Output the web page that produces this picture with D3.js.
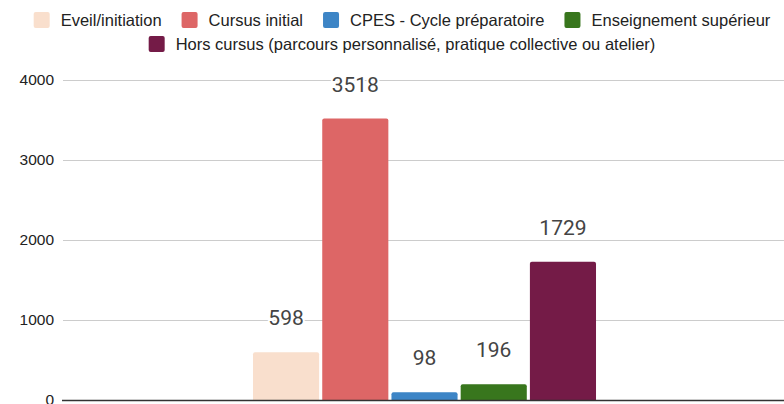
<!DOCTYPE html>
<html><head><meta charset="utf-8">
<script src="https://cdn.jsdelivr.net/npm/d3@7/dist/d3.min.js"></script>
<style>
html,body{margin:0;padding:0;background:#fff;overflow:hidden}
svg{display:block}
</style></head>
<body>
<script>
const categories = [""];
const seriesNames = ["Eveil/initiation","Cursus initial","CPES - Cycle préparatoire","Enseignement supérieur","Hors cursus (parcours personnalisé, pratique collective ou atelier)"];
const seriesValues = [598, 3518, 98, 196, 1729];
const seriesColors = ["#f9dfcd","#dd6666","#3d85c6","#38761d","#741b47"];
const yTicks = [0, 1000, 2000, 3000, 4000];

const W = 784, H = 404;
const svg = d3.select("body").append("svg").attr("width", W).attr("height", H);

const mLeft = 62, mRight = 784, mTop = 80, mBottom = 400;
const y = d3.scaleLinear().domain([0, 4000]).range([mBottom, mTop]);
const x0 = d3.scaleBand().domain(categories).range([mLeft, mRight]).paddingInner(0).paddingOuter(0.5525).align(0.504);
const x1 = d3.scaleBand().domain(seriesNames).range([0, x0.bandwidth()]).paddingInner(0.045).paddingOuter(0);

// gridlines
svg.append("g").selectAll("line").data(yTicks.filter(t => t > 0)).join("line")
  .attr("x1", mLeft + 1).attr("x2", mRight)
  .attr("y1", d => Math.round(y(d)) + 0.5).attr("y2", d => Math.round(y(d)) + 0.5)
  .attr("stroke", "#cccccc").attr("stroke-width", 1);

// y axis labels
const yAxis = d3.axisLeft(y).tickValues(yTicks).tickSize(0).tickPadding(0).tickFormat(d3.format("d"));
const ya = svg.append("g").attr("transform", `translate(54,0)`).call(yAxis);
ya.select(".domain").remove();
ya.selectAll("text").attr("font-family", "'Liberation Sans', Arial, sans-serif").attr("font-size", 15.5).attr("fill", "#222");

// bars
const r = 2;
function barPath(x, yt, w, yb) {
  return `M${x},${yb}V${yt + r}Q${x},${yt} ${x + r},${yt}H${x + w - r}Q${x + w},${yt} ${x + w},${yt + r}V${yb}Z`;
}
const g = svg.append("g").attr("transform", `translate(${x0(categories[0])},0)`);
const data = seriesNames.map((n, i) => ({name: n, value: seriesValues[i], color: seriesColors[i]}));
g.selectAll("path").data(data).join("path")
  .attr("d", d => barPath(x1(d.name), y(d.value), x1.bandwidth(), y(0)))
  .attr("fill", d => d.color);

// value labels
g.selectAll("text").data(data).join("text")
  .attr("x", d => x1(d.name) + x1.bandwidth() / 2)
  .attr("y", d => y(d.value) - 27)
  .attr("text-anchor", "middle")
  .attr("font-family", "Roboto, sans-serif").attr("font-size", 21).attr("fill", "#444")
  .attr("stroke", "#fff").attr("stroke-width", 4).attr("paint-order", "stroke")
  .attr("stroke-linejoin", "round")
  .text(d => d.value);

// baseline
svg.append("line").attr("x1", mLeft).attr("x2", mRight).attr("y1", mBottom + 0.5).attr("y2", mBottom + 0.5)
  .attr("stroke", "#333").attr("stroke-width", 1.5);

// legend
const legendFont = "'Liberation Sans', Arial, sans-serif";
const rows = [[0,1,2,3],[4]];
const rowBase = [26, 50];
const legendCenter = 402;
const sw = 16, gapST = 11, gapItem = 20;
const lg = svg.append("g");
rows.forEach((row, ri) => {
  const rg = lg.append("g");
  let cx = 0;
  row.forEach(i => {
    rg.append("rect").attr("x", cx).attr("y", rowBase[ri] - 14).attr("width", sw).attr("height", sw)
      .attr("rx", 2).attr("fill", seriesColors[i]);
    const t = rg.append("text").attr("x", cx + sw + gapST).attr("y", rowBase[ri])
      .attr("font-family", legendFont).attr("font-size", 16.5).attr("fill", "#222").text(seriesNames[i]);
    cx += sw + gapST + t.node().getComputedTextLength() + gapItem;
  });
  const total = cx - gapItem;
  rg.attr("transform", `translate(${legendCenter - total / 2},0)`);
});
</script>
</body></html>
